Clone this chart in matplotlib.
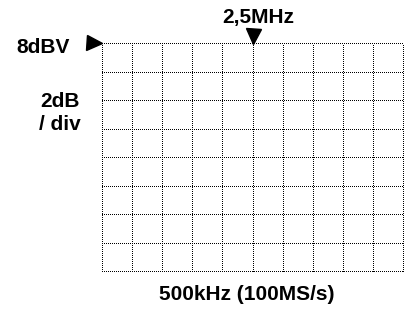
import matplotlib
matplotlib.use("Agg")
import matplotlib.pyplot as plt
import matplotlib.transforms as mtransforms
import numpy as np

plt.rcParams['font.family'] = ['Liberation Sans', 'DejaVu Sans']

# screen settings of the spectrum view
center_mhz = 2.5
span_mhz = 0.5
n_xdiv = 10
ref_dbv = 8
db_per_div = 2
n_ydiv = 8

x_ticks = center_mhz - span_mhz / 2 + np.arange(n_xdiv + 1) * span_mhz / n_xdiv
y_ticks = ref_dbv - np.arange(n_ydiv + 1)[::-1] * db_per_div

W, H, DPI = 408, 309, 100
fig = plt.figure(figsize=(W / DPI, H / DPI), dpi=DPI)


def px(x, y):
    return x / W, 1 - y / H


left, top, right, bottom = 102, 43, 403, 271
ax = fig.add_axes([left / W, 1 - bottom / H, (right - left) / W, (bottom - top) / H])
ax.set_xlim(x_ticks[0], x_ticks[-1])
ax.set_ylim(y_ticks[0], y_ticks[-1])
ax.tick_params(length=0, labelbottom=False, labelleft=False)
ax.set_xticks([])
ax.set_yticks([])
for s in ax.spines.values():
    s.set_visible(False)

# dotted screen graticule, edges included
dots = (0, (1.0, 2.0))
for xv in x_ticks:
    ax.plot([xv, xv], [y_ticks[0], y_ticks[-1]], color='black', lw=0.72,
            linestyle=dots, antialiased=False, clip_on=False)
for yv in y_ticks:
    ax.plot([x_ticks[0], x_ticks[-1]], [yv, yv], color='black', lw=0.72,
            linestyle=dots, antialiased=False, clip_on=False)

# reference level marker and center frequency marker
tr_ref = mtransforms.offset_copy(ax.transData, fig=fig, x=-5.5, y=0, units='points')
ax.plot([x_ticks[0]], [ref_dbv], marker='>', ms=10.8, color='black',
        transform=tr_ref, clip_on=False)
tr_cen = mtransforms.offset_copy(ax.transData, fig=fig, x=0, y=5.3, units='points')
ax.plot([center_mhz], [y_ticks[-1]], marker='v', ms=10.8, color='black',
        transform=tr_cen, clip_on=False)

fs = 15
fig.text(*px(70, 53), '8dBV', ha='right', va='baseline', fontsize=fs, fontweight='bold')
fig.text(*px(258, 23), '2,5MHz', ha='center', va='baseline', fontsize=fs, fontweight='bold')
fig.text(*px(60, 106.5), '2dB', ha='center', va='baseline', fontsize=fs, fontweight='bold')
fig.text(*px(60, 129.5), '/ div', ha='center', va='baseline', fontsize=fs, fontweight='bold')
fig.text(*px(247, 300), '500kHz (100MS/s)', ha='center', va='baseline', fontsize=fs,
         fontweight='bold')

fig.savefig('out.png', dpi=DPI)
